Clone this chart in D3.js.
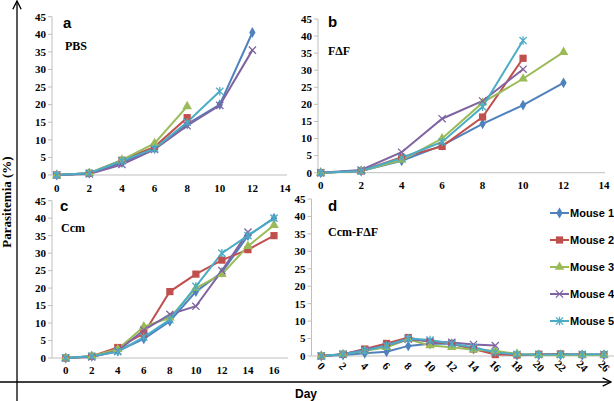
<!DOCTYPE html>
<html>
<head>
<meta charset="utf-8">
<script src="https://cdn.jsdelivr.net/npm/d3@7"></script>
<style>
  body { margin: 0; background: #fff; }
  svg { display: block; }
</style>
</head>
<body>
<svg width="614" height="401"></svg>
<script>
// данные
const mice = ["Mouse 1", "Mouse 2", "Mouse 3", "Mouse 4", "Mouse 5"];
const colors = ["#4F81BD", "#C0504D", "#9BBB59", "#8064A2", "#4BACC6"];
const yTicks = [0, 5, 10, 15, 20, 25, 30, 35, 40, 45];

// a - PBS (значения с дня 0, шаг 2 дня)
const pbsTicks = [0, 2, 4, 6, 8, 10, 12, 14];
const pbsMouse1 = [0, 0.5, 3.5, 7.5, 14.5, 20, 40.5];
const pbsMouse2 = [0, 0.5, 4.2, 8, 16.3];
const pbsMouse3 = [0, 0.5, 4.3, 9, 19.5];
const pbsMouse4 = [0, 0.3, 3, 7.3, 14, 19.8, 35.5];
const pbsMouse5 = [0, 0.5, 4, 7.5, 15, 23.8];

// b - FΔF
const fdfTicks = [0, 2, 4, 6, 8, 10, 12, 14];
const fdfMouse1 = [0, 0.5, 3.5, 8, 14.3, 19.8, 26.3];
const fdfMouse2 = [0, 0.5, 4.5, 7.7, 16.3, 33.5];
const fdfMouse3 = [0, 0.5, 3.7, 10, 20.5, 27.5, 35.3];
const fdfMouse4 = [0, 0.8, 6, 15.8, 21, 30.3];
const fdfMouse5 = [0, 0.5, 4.3, 9, 19.3, 38.7];

// c - Ccm
const ccmTicks = [0, 2, 4, 6, 8, 10, 12, 14, 16];
const ccmMouse1 = [0, 0.5, 2, 5.5, 10.5, 19, 24.5, 35, 40];
const ccmMouse2 = [0, 0.5, 3, 7, 19, 24, 28, 31, 35];
const ccmMouse3 = [0, 0.5, 2.5, 9, 11.5, 20, 24, 32, 38];
const ccmMouse4 = [0, 0.3, 2, 8, 12.5, 14.8, 25, 36];
const ccmMouse5 = [0, 0.5, 1.8, 6, 11, 20.5, 30, 35, 40];

// d - Ccm-FΔF
const ccmFdfTicks = [0, 2, 4, 6, 8, 10, 12, 14, 16, 18, 20, 22, 24, 26];
const ccmFdfMouse1 = [0, 0.3, 0.8, 1.2, 2.9, 3.5, 3.5, 2, 1, 0.3, 0.3, 0.3, 0.3, 0.3];
const ccmFdfMouse2 = [0, 0.5, 2, 3.6, 5.3, 4, 3.6, 2, 0.4, 0.3, 0.5, 0.6, 0.4, 0.4];
const ccmFdfMouse3 = [0, 0.5, 1.5, 2.5, 4.8, 3, 2.5, 1.8, 1.5, 0.6, 0.3, 0.3, 0.3, 0.3];
const ccmFdfMouse4 = [0, 0.5, 1.8, 3, 4.8, 4.2, 3.9, 3.3, 3];
const ccmFdfMouse5 = [0, 0.5, 1.5, 3, 5, 4.6, 3.5, 2.5, 1, 0.5, 0.4, 0.4, 0.5, 0.5];

const panels = [
    {letter: "a", title: "PBS", ticks: pbsTicks,
     series: [pbsMouse1, pbsMouse2, pbsMouse3, pbsMouse4, pbsMouse5],
     yAxisX: 52, xRange: [56.7, 285], xEnd: 287, yRange: [175, 16.7], tickY: 192, rotate: false,
     letterPos: [63, 28], titlePos: [65, 50]},
    {letter: "b", title: "FΔF", ticks: fdfTicks,
     series: [fdfMouse1, fdfMouse2, fdfMouse3, fdfMouse4, fdfMouse5],
     yAxisX: 318, xRange: [320.7, 604], xEnd: 605, yRange: [172.7, 19], tickY: 189, rotate: false,
     letterPos: [328, 27], titlePos: [328, 55]},
    {letter: "c", title: "Ccm", ticks: ccmTicks,
     series: [ccmMouse1, ccmMouse2, ccmMouse3, ccmMouse4, ccmMouse5],
     yAxisX: 52, xRange: [65.7, 274], xEnd: 288, yRange: [358, 200.7], tickY: 374, rotate: false,
     letterPos: [60, 211], titlePos: [61, 232]},
    {letter: "d", title: "Ccm-FΔF", ticks: ccmFdfTicks,
     series: [ccmFdfMouse1, ccmFdfMouse2, ccmFdfMouse3, ccmFdfMouse4, ccmFdfMouse5],
     yAxisX: 311.5, xRange: [321.3, 604], xEnd: 614, yRange: [356, 199], tickY: 366, rotate: true,
     letterPos: [328, 211], titlePos: [328, 236]}
];

const svg = d3.select("svg");
const axisColor = "#bfbfbf";

// маркеры серий
function drawMarker(g, i, x, y, color) {
    if (i === 0) {
        g.append("path").attr("d", d3.symbol(d3.symbolDiamond, 34)())
            .attr("transform", `translate(${x},${y})`).attr("fill", color);
    } else if (i === 1) {
        g.append("rect").attr("x", x - 3.6).attr("y", y - 3.6)
            .attr("width", 7.2).attr("height", 7.2).attr("fill", color);
    } else if (i === 2) {
        g.append("path").attr("d", d3.symbol(d3.symbolTriangle, 40)())
            .attr("transform", `translate(${x},${y})`).attr("fill", color);
    } else {
        const r = 3.6;
        let p = `M${x - r},${y - r}L${x + r},${y + r}M${x - r},${y + r}L${x + r},${y - r}`;
        if (i === 4) p += `M${x},${y - r - 0.6}L${x},${y + r + 0.6}`;
        g.append("path").attr("d", p).attr("stroke", color)
            .attr("stroke-width", 1.3).attr("fill", "none");
    }
}

panels.forEach(p => {
    const maxDay = p.ticks[p.ticks.length - 1];
    const scX = d3.scaleLinear().domain([0, maxDay]).range(p.xRange);
    const scY = d3.scaleLinear().domain([0, 45]).range(p.yRange);
    const g = svg.append("g");

    // оси
    g.append("line").attr("x1", p.yAxisX).attr("x2", p.yAxisX)
        .attr("y1", scY(45)).attr("y2", scY(0))
        .attr("stroke", axisColor).attr("stroke-width", 1);
    g.append("line").attr("x1", p.yAxisX).attr("x2", p.xEnd)
        .attr("y1", scY(0)).attr("y2", scY(0))
        .attr("stroke", axisColor).attr("stroke-width", 1);

    g.selectAll(".ytick").data(yTicks).enter().append("line")
        .attr("x1", p.yAxisX - 4).attr("x2", p.yAxisX)
        .attr("y1", d => scY(d)).attr("y2", d => scY(d))
        .attr("stroke", axisColor);

    g.selectAll(".ylab").data(yTicks).enter().append("text")
        .attr("x", p.yAxisX - 6).attr("y", d => scY(d))
        .attr("dy", "0.35em").attr("text-anchor", "end")
        .style("font", "bold 11px 'Liberation Serif', 'Times New Roman', serif")
        .text(d => d);

    if (p.rotate) {
        g.selectAll(".xlab").data(p.ticks).enter().append("text")
            .attr("transform", d => `translate(${scX(d)},${p.tickY}) rotate(45)`)
            .attr("text-anchor", "middle").attr("dy", "0.35em")
            .style("font", "bold 11px 'Liberation Serif', 'Times New Roman', serif")
            .text(d => d);
    } else {
        g.selectAll(".xlab").data(p.ticks).enter().append("text")
            .attr("x", d => scX(d)).attr("y", p.tickY)
            .attr("text-anchor", "middle")
            .style("font", "bold 11px 'Liberation Serif', 'Times New Roman', serif")
            .text(d => d);
    }

    // линии серий
    const line = d3.line().x((d, k) => scX(p.ticks[k])).y(d => scY(d));
    p.series.forEach((vals, i) => {
        g.append("path").datum(vals).attr("d", line)
            .attr("fill", "none").attr("stroke", colors[i]).attr("stroke-width", 2);
    });
    p.series.forEach((vals, i) => {
        vals.forEach((v, k) => drawMarker(g, i, scX(p.ticks[k]), scY(v), colors[i]));
    });

    g.append("text").attr("x", p.letterPos[0]).attr("y", p.letterPos[1])
        .style("font", "bold 15px 'Liberation Sans', Arial, sans-serif")
        .text(p.letter);
    g.append("text").attr("x", p.titlePos[0]).attr("y", p.titlePos[1])
        .style("font", "bold 12px 'Liberation Serif', 'Times New Roman', serif")
        .text(p.title);
});

// легенда
const legend = svg.append("g");
mice.forEach((m, i) => {
    const y = 213 + i * 27;
    legend.append("line").attr("x1", 550).attr("x2", 569).attr("y1", y).attr("y2", y)
        .attr("stroke", colors[i]).attr("stroke-width", 2);
    drawMarker(legend, i, 559.5, y, colors[i]);
    legend.append("text").attr("x", 570).attr("y", y).attr("dy", "0.36em")
        .style("font", "bold 11px 'Liberation Sans', Arial, sans-serif")
        .text(m);
});

// общие оси со стрелками
svg.append("defs").append("marker").attr("id", "arrow")
    .attr("viewBox", "0 0 10 10").attr("refX", 9).attr("refY", 5)
    .attr("markerWidth", 8).attr("markerHeight", 8).attr("orient", "auto")
    .append("path").attr("d", "M1,1L9,5L1,9").attr("fill", "none")
    .attr("stroke", "#000").attr("stroke-width", 1.3);

svg.append("line").attr("x1", 17).attr("x2", 17).attr("y1", 401).attr("y2", 1)
    .attr("stroke", "#000").attr("stroke-width", 1.3).attr("marker-end", "url(#arrow)");
svg.append("line").attr("x1", 0).attr("x2", 611).attr("y1", 382).attr("y2", 382)
    .attr("stroke", "#000").attr("stroke-width", 1.3).attr("marker-end", "url(#arrow)");

svg.append("text").attr("transform", "translate(11,202) rotate(-90)")
    .attr("text-anchor", "middle")
    .style("font", "bold 13px 'Liberation Serif', 'Times New Roman', serif")
    .text("Parasitemia (%)");
svg.append("text").attr("x", 306).attr("y", 398).attr("text-anchor", "middle")
    .style("font", "bold 12px 'Liberation Sans', Arial, sans-serif")
    .text("Day");
</script>
</body>
</html>
